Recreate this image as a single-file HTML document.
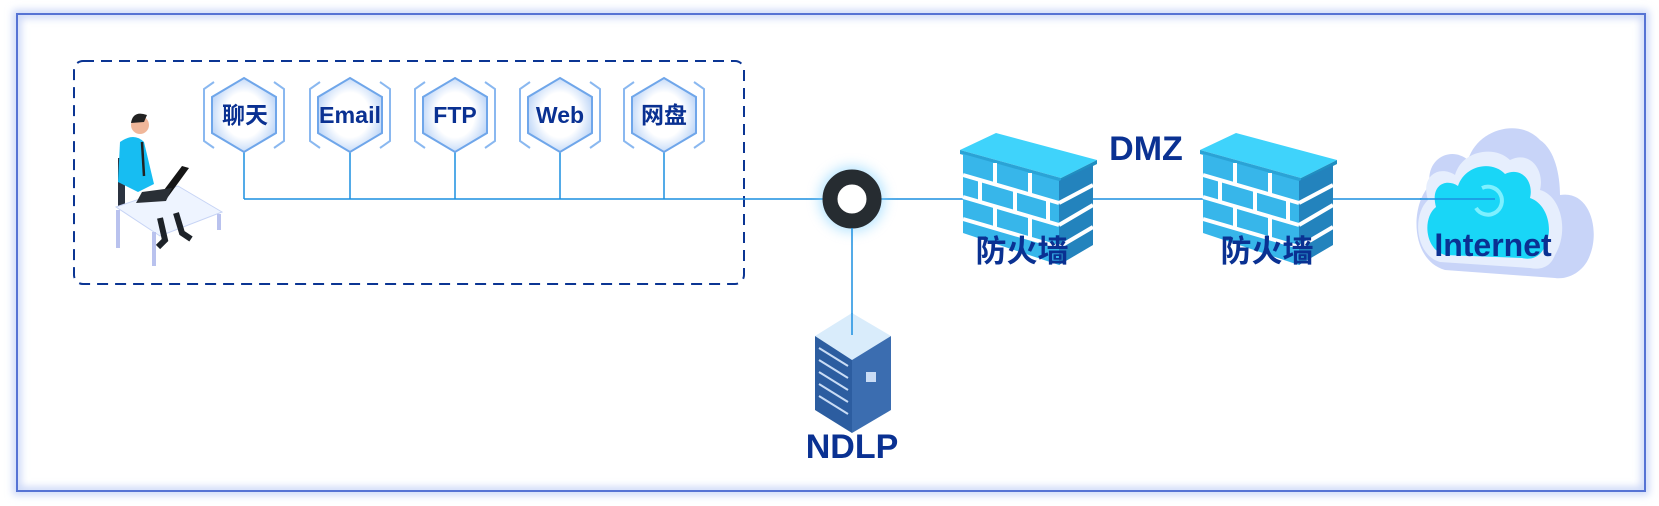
<!DOCTYPE html>
<html><head><meta charset="utf-8"><style>
html,body{margin:0;padding:0;background:#fff;}
svg{display:block;}
text{font-family:"Liberation Sans","Noto Sans CJK SC",sans-serif;font-weight:bold;fill:#0a3192;}
</style></head><body>
<svg width="1659" height="506" viewBox="0 0 1659 506" xmlns="http://www.w3.org/2000/svg">
<defs>
<filter id="glow" x="-50%" y="-50%" width="200%" height="200%"><feGaussianBlur stdDeviation="6"/></filter>
<filter id="fglow" x="-5%" y="-5%" width="110%" height="110%"><feGaussianBlur stdDeviation="4"/></filter>
<radialGradient id="hexg" cx="50%" cy="50%" r="55%"><stop offset="0.55" stop-color="#ffffff"/><stop offset="1" stop-color="#b9d3f7"/></radialGradient>
<g id="hex">
<polygon points="0,-37 32,-18 32,18 0,37 -32,18 -32,-18" fill="url(#hexg)" stroke="#6fa6ea" stroke-width="2"/>
<polyline points="-30,-33 -40,-26 -40,26 -30,33" fill="none" stroke="#8ab8f0" stroke-width="2"/>
<polyline points="30,-33 40,-26 40,26 30,33" fill="none" stroke="#8ab8f0" stroke-width="2"/>
</g>
<g id="fw">
<polygon points="0,17 36,0 137,27 101,45" fill="#3fd3fb"/>
<polygon points="0,17 101,45 101,49 0,21" fill="#2aa3d6"/>
<polygon points="101,45 137,27 137,31 101,49" fill="#1f8fc2"/>
<polygon points="3,21 99,48 99,132 3,100" fill="#37b6ea"/>
<polygon points="99,48 133,32 133,112 99,132" fill="#2383bd"/>
<g stroke="#fff" stroke-width="4" fill="none">
<line x1="3" y1="42" x2="99" y2="70"/><line x1="3" y1="64" x2="99" y2="92"/><line x1="3" y1="86" x2="99" y2="114"/>
<line x1="99" y1="70" x2="133" y2="52"/><line x1="99" y1="92" x2="133" y2="72"/><line x1="99" y1="114" x2="133" y2="94"/>
<line x1="35" y1="30" x2="35" y2="51"/><line x1="70" y1="40" x2="70" y2="61"/>
<line x1="20" y1="47" x2="20" y2="69"/><line x1="55" y1="57" x2="55" y2="79"/><line x1="88" y1="67" x2="88" y2="89"/>
<line x1="35" y1="74" x2="35" y2="95"/><line x1="70" y1="84" x2="70" y2="105"/>
</g>
</g>
</defs>
<rect x="17" y="14" width="1628" height="477" fill="none" stroke="#c9d6f7" stroke-width="8" filter="url(#fglow)"/>
<rect x="17" y="14" width="1628" height="477" fill="none" stroke="#5673d4" stroke-width="2"/>
<rect x="74" y="61" width="670" height="223" rx="9" fill="none" stroke="#0b3593" stroke-width="2" stroke-dasharray="11,7"/>
<g stroke="#1a8fe0" stroke-width="1.5" fill="none">
<line x1="244" y1="199" x2="1495" y2="199"/>
<line x1="244" y1="152" x2="244" y2="199"/><line x1="350" y1="152" x2="350" y2="199"/>
<line x1="455" y1="152" x2="455" y2="199"/><line x1="560" y1="152" x2="560" y2="199"/>
<line x1="664" y1="152" x2="664" y2="199"/>
</g>
<use href="#hex" x="244" y="115"/><use href="#hex" x="350" y="115"/><use href="#hex" x="455" y="115"/><use href="#hex" x="560" y="115"/><use href="#hex" x="664" y="115"/>
<g font-size="23" text-anchor="middle">
<text x="245" y="123">聊天</text><text x="350" y="123" textLength="62" lengthAdjust="spacingAndGlyphs">Email</text><text x="455" y="123">FTP</text><text x="560" y="123">Web</text><text x="664" y="123">网盘</text>
</g>
<!-- person at desk -->
<g>
<rect x="118" y="158" width="7" height="48" fill="#2b3340"/>
<polygon points="116,207 178,186 222,212 160,236" fill="#eef4ff" stroke="#c7d4f5"/>
<line x1="118" y1="210" x2="118" y2="248" stroke="#b9c2ee" stroke-width="4"/>
<line x1="154" y1="232" x2="154" y2="266" stroke="#b9c2ee" stroke-width="4"/>
<line x1="219" y1="214" x2="219" y2="230" stroke="#b9c2ee" stroke-width="4"/>
<path d="M160,218 l5,22 l-7,7 M176,213 l6,20 l9,6" stroke="#1d2228" stroke-width="6" fill="none"/>
<path d="M120,142 q14,-10 24,0 l10,42 l-16,8 l-20,-10 z" fill="#17bdf2"/>
<line x1="142" y1="142" x2="144" y2="176" stroke="#222" stroke-width="2.5"/>
<circle cx="140" cy="125" r="9" fill="#f0b79a"/>
<path d="M131,123 q2,-13 16,-8 l-3,7 z" fill="#222"/>
<polygon points="158,198 182,166 189,168 165,201" fill="#151515"/>
<polygon points="142,192 172,188 166,201 136,203" fill="#2a2f36"/>
</g>
<!-- node -->
<circle cx="852" cy="199" r="33" fill="#7fd0ff" opacity="0.55" filter="url(#glow)"/>
<circle cx="852" cy="199" r="22" fill="#fff" stroke="#262c31" stroke-width="15"/>
<line x1="852" y1="228" x2="852" y2="333" stroke="#1a8fe0" stroke-width="1.5"/>
<!-- server -->
<g>
<polygon points="852,313 891,336 852,360 815,336" fill="#d9ecfb"/>
<polygon points="815,336 852,360 852,433 815,410" fill="#2c5da0"/>
<polygon points="852,360 891,336 891,410 852,433" fill="#3b6db0"/>
<g stroke="#c9dcf5" stroke-width="2">
<line x1="819" y1="348" x2="848" y2="366"/><line x1="819" y1="360" x2="848" y2="378"/><line x1="819" y1="372" x2="848" y2="390"/><line x1="819" y1="384" x2="848" y2="402"/><line x1="819" y1="396" x2="848" y2="414"/>
</g>
<rect x="866" y="372" width="10" height="10" fill="#c9dcf5"/>
<line x1="852" y1="313" x2="852" y2="335" stroke="#1a8fe0" stroke-width="1.5"/>
</g>
<text x="852" y="458" font-size="34" text-anchor="middle">NDLP</text>
<use href="#fw" x="960" y="133"/>
<use href="#fw" x="1200" y="133"/>
<text x="1022" y="262" font-size="31" text-anchor="middle">防火墙</text>
<text x="1267" y="262" font-size="31" text-anchor="middle">防火墙</text>
<text x="1146" y="160" font-size="34" text-anchor="middle">DMZ</text>
<!-- cloud -->
<g>
<path d="M1445,270 C1410,260 1410,205 1430,185 C1425,160 1450,145 1468,160 C1478,128 1520,118 1540,140 C1555,150 1560,175 1560,195 C1590,190 1600,230 1590,255 C1585,270 1570,280 1555,278 Z" fill="#c8d4f8"/>
<path d="M1440,262 C1415,255 1412,215 1428,200 C1420,175 1440,165 1455,175 C1462,150 1495,145 1510,160 C1530,150 1545,170 1540,190 C1560,195 1570,230 1555,255 C1550,268 1540,270 1530,268 Z" fill="#e6eefd"/>
<path d="M1445,255 C1425,250 1422,218 1436,207 C1430,185 1446,178 1458,186 C1465,165 1492,160 1505,174 C1522,166 1534,182 1530,198 C1548,204 1555,232 1543,250 C1538,258 1530,260 1522,258 Z" fill="#19d6f7"/>
<path d="M1482,188 a14,14 0 1,1 -6,20" stroke="#7ef0ff" stroke-width="4" fill="none"/>
<line x1="1420" y1="199" x2="1495" y2="199" stroke="#1a8fe0" stroke-width="1.5"/>
</g>
<text x="1493" y="256" font-size="32" text-anchor="middle">Internet</text>
</svg>
</body></html>
